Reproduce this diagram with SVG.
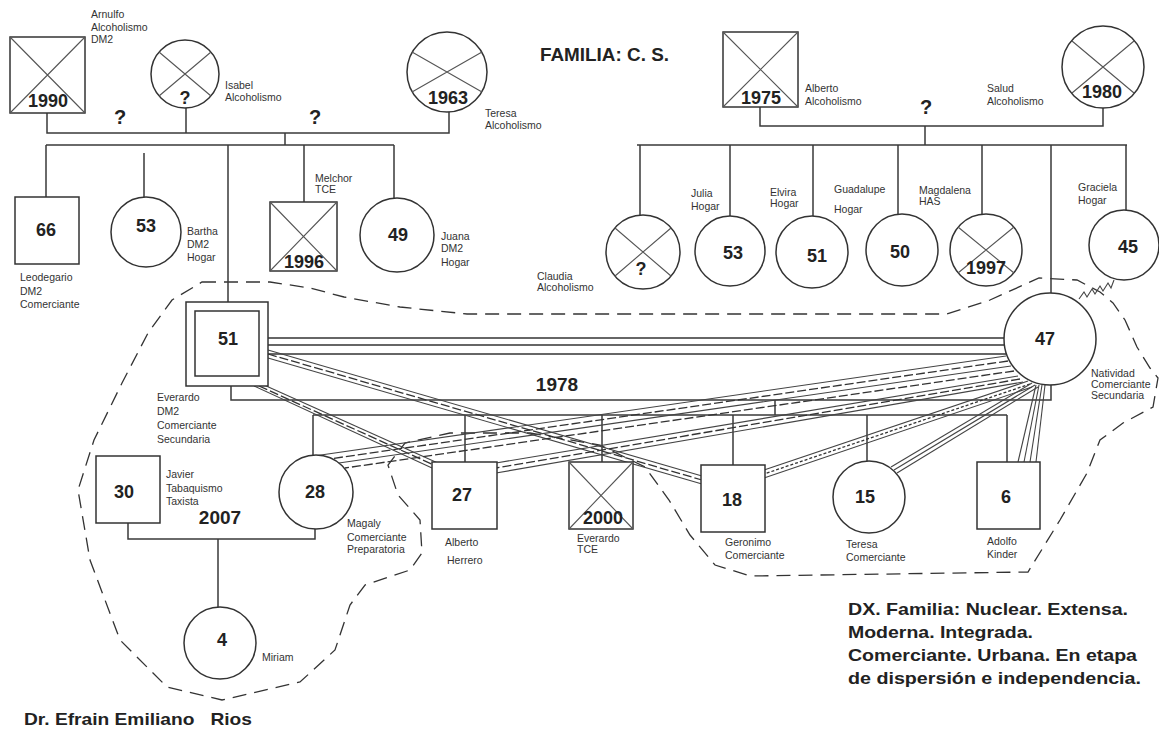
<svg xmlns="http://www.w3.org/2000/svg" width="1159" height="732" viewBox="0 0 1159 732">
<style>
.sh{fill:#fff;stroke:#333;stroke-width:1.5}
.x{stroke:#555;stroke-width:1.1;fill:none}
.ln{fill:none;stroke:#3a3a3a;stroke-width:1.5}
.num{font-family:"Liberation Sans",Arial,sans-serif;font-weight:bold;font-size:18px;fill:#222;text-anchor:middle}
.lb{font-family:"Liberation Sans",Arial,sans-serif;font-size:10.5px;fill:#333}
.big{font-family:"Liberation Sans",Arial,sans-serif;font-weight:bold;fill:#222}
.bd{fill:none;stroke:#333;stroke-width:1.3;stroke-dasharray:14 8}
.r{stroke:#444;stroke-width:1.1;fill:none}
.rd{stroke:#333;stroke-width:1.3;fill:none;stroke-dasharray:9 3}
.rh{stroke:#333;stroke-width:1.3;fill:none;stroke-dasharray:3 2}
.tri{stroke:#666;stroke-width:1.8}
</style>
<rect width="1159" height="732" fill="#fff"/>

<g id="household">
<path class="bd" d="M202,282 L270,282 L310,288 L344,297 L400,307 L467,314 L947,314 L990,300 L1039,278 L1077,280 L1100,292 L1113,303 L1125,320 L1137,347 L1150,368 L1158,378 L1153,407 L1123,423 L1100,440 L1087,473 L1060,520 L1028,572 L750,576 L715,565 L690,535 L669,500 L645,467 L600,445 L530,433 L450,433 L405,443 L388,465 L398,495 L420,520 L422,553 L410,570 L365,585 L350,605 L335,650 L300,682 L222,700 L167,687 L120,640 L90,560 L78,490 L94,440 L122,383 L148,333 L172,300 Z"/>
</g>

<g id="connectors">
<path class="ln" d="M47,113 V133 H449 V112 M186,108 V133 M285,133 V145 M46,145 H394 M46,145 V197 M144,153 V197 M228,145 V302 M304,145 V202 M394,145 V198"/>
<path class="ln" d="M760,107 V126 H1103 V108 M925,126 V145 M637,145 H1127 M640,145 V215 M730,145 V216 M813,145 V216 M898,145 V214 M982,145 V214 M1051,145 V293 M1126,145 V210"/>
<path class="ln" d="M231,386 V400 H1051 V385 M775,400 V415 M313,415 H1007 M313,415 V455 M465,415 V462 M602,415 V462 M733,415 V465 M867,415 V461 M1007,415 V462"/>
<path class="ln" d="M128,523 V539 H315 V529 M218,539 V607"/>
<g class="tri">
<line x1="268" y1="338" x2="1006" y2="338"/>
<line x1="268" y1="345" x2="1006" y2="345"/>
<line x1="268" y1="354" x2="1006" y2="354"/>
</g>
<line class="r" x1="268" y1="350" x2="702" y2="476"/>
<line class="rd" x1="268" y1="354" x2="702" y2="480"/>
<line class="r" x1="268" y1="358" x2="702" y2="484"/>
<line class="r" x1="254" y1="386" x2="432" y2="468"/>
<line class="rd" x1="259" y1="386" x2="436" y2="466"/>
<line class="r" x1="264" y1="385" x2="440" y2="464"/>
<line class="r" x1="1006" y1="356" x2="314" y2="456"/>
<line class="rd" x1="1008" y1="361" x2="322" y2="460"/>
<line class="r" x1="1011" y1="366" x2="332" y2="464"/>
<line class="rd" x1="1014" y1="371" x2="345" y2="468"/>
<line class="r" x1="1018" y1="376" x2="496" y2="463"/>
<line class="rd" x1="1020" y1="379" x2="496" y2="468"/>
<line class="r" x1="1023" y1="382" x2="496" y2="473"/>
<line class="r" x1="1028" y1="381" x2="764" y2="470"/>
<line class="rh" x1="1030" y1="384" x2="764" y2="474"/>
<line class="r" x1="1032" y1="387" x2="764" y2="478"/>
<line class="r" x1="1032" y1="383" x2="891" y2="467"/>
<line class="r" x1="1035" y1="385" x2="894" y2="470"/>
<line class="r" x1="1038" y1="387" x2="897" y2="473"/>
<line class="r" x1="1036" y1="385" x2="1018" y2="462"/>
<line class="r" x1="1039" y1="385" x2="1024" y2="462"/>
<line class="r" x1="1042" y1="385" x2="1030" y2="462"/>
<line class="r" x1="1045" y1="385" x2="1036" y2="462"/>
<polyline class="r" points="1079,299 1084,292 1087,297 1092,289 1095,294 1100,286 1103,291 1108,283 1111,288 1114,280"/>
</g>

<g id="arnulfo">
<rect class="sh" x="10" y="37" width="75" height="76"/>
<path class="x" d="M10,37 L85,113 M85,37 L10,113"/>
<text class="num" x="48" y="107">1990</text>
<text class="lb" x="91" y="18">Arnulfo</text>
<text class="lb" x="91" y="31">Alcoholismo</text>
<text class="lb" x="91" y="43">DM2</text>
</g>
<g id="isabel">
<circle class="sh" cx="185" cy="74" r="34"/>
<path class="x" d="M159,52 L211,96 M211,52 L159,96"/>
<text class="num" x="185" y="104">?</text>
<text class="lb" x="225" y="89">Isabel</text>
<text class="lb" x="225" y="101">Alcoholismo</text>
</g>
<g id="teresa-abuela">
<circle class="sh" cx="447" cy="72" r="40"/>
<path class="x" d="M412,52 L482,92 M482,52 L412,92"/>
<text class="num" x="448" y="104">1963</text>
<text class="lb" x="485" y="117">Teresa</text>
<text class="lb" x="485" y="129">Alcoholismo</text>
</g>
<g id="alberto-abuelo">
<rect class="sh" x="723" y="32" width="75" height="75"/>
<path class="x" d="M723,32 L798,107 M798,32 L723,107"/>
<text class="num" x="761" y="104">1975</text>
<text class="lb" x="805" y="92">Alberto</text>
<text class="lb" x="805" y="105">Alcoholismo</text>
</g>
<g id="salud">
<circle class="sh" cx="1103" cy="67" r="41"/>
<path class="x" d="M1072,41 L1134,93 M1134,41 L1072,93"/>
<text class="num" x="1102" y="98">1980</text>
<text class="lb" x="987" y="92">Salud</text>
<text class="lb" x="987" y="105">Alcoholismo</text>
</g>

<g id="leodegario">
<rect class="sh" x="15" y="197" width="64" height="67"/>
<text class="num" x="46" y="236">66</text>
<text class="lb" x="20" y="281">Leodegario</text>
<text class="lb" x="20" y="295">DM2</text>
<text class="lb" x="20" y="308">Comerciante</text>
</g>
<g id="bartha">
<circle class="sh" cx="146" cy="232" r="35"/>
<text class="num" x="146" y="232">53</text>
<text class="lb" x="187" y="235">Bartha</text>
<text class="lb" x="187" y="248">DM2</text>
<text class="lb" x="187" y="261">Hogar</text>
</g>
<g id="melchor">
<rect class="sh" x="270" y="202" width="67" height="69"/>
<path class="x" d="M270,202 L337,271 M337,202 L270,271"/>
<text class="num" x="304" y="268">1996</text>
<text class="lb" x="315" y="182">Melchor</text>
<text class="lb" x="315" y="193">TCE</text>
</g>
<g id="juana">
<circle class="sh" cx="397" cy="235" r="37"/>
<text class="num" x="398" y="241">49</text>
<text class="lb" x="441" y="240">Juana</text>
<text class="lb" x="441" y="252">DM2</text>
<text class="lb" x="441" y="266">Hogar</text>
</g>

<g id="claudia">
<circle class="sh" cx="643" cy="252" r="37"/>
<path class="x" d="M615,228 L671,276 M671,228 L615,276"/>
<text class="num" x="641" y="275">?</text>
<text class="lb" x="537" y="280">Claudia</text>
<text class="lb" x="537" y="291">Alcoholismo</text>
</g>
<g id="julia">
<circle class="sh" cx="730" cy="251" r="35"/>
<text class="num" x="733" y="259">53</text>
<text class="lb" x="691" y="197">Julia</text>
<text class="lb" x="691" y="210">Hogar</text>
</g>
<g id="elvira">
<circle class="sh" cx="812" cy="252" r="36"/>
<text class="num" x="817" y="262">51</text>
<text class="lb" x="770" y="196">Elvira</text>
<text class="lb" x="770" y="207">Hogar</text>
</g>
<g id="guadalupe">
<circle class="sh" cx="902" cy="250" r="36"/>
<text class="num" x="900" y="258">50</text>
<text class="lb" x="834" y="193">Guadalupe</text>
<text class="lb" x="834" y="213">Hogar</text>
</g>
<g id="magdalena">
<circle class="sh" cx="986" cy="250" r="36"/>
<path class="x" d="M958,227 L1014,273 M1014,227 L958,273"/>
<text class="num" x="986" y="274">1997</text>
<text class="lb" x="919" y="194">Magdalena</text>
<text class="lb" x="919" y="205">HAS</text>
</g>
<g id="graciela">
<circle class="sh" cx="1124" cy="245" r="35"/>
<text class="num" x="1128" y="253">45</text>
<text class="lb" x="1078" y="191">Graciela</text>
<text class="lb" x="1078" y="204">Hogar</text>
</g>

<g id="everardo">
<rect class="sh" x="186" y="302" width="82" height="84"/>
<rect class="sh" x="195" y="311" width="64" height="65"/>
<text class="num" x="228" y="345">51</text>
<text class="lb" x="157" y="401">Everardo</text>
<text class="lb" x="157" y="415">DM2</text>
<text class="lb" x="157" y="429">Comerciante</text>
<text class="lb" x="157" y="443">Secundaria</text>
</g>
<g id="natividad">
<circle class="sh" cx="1050" cy="339" r="46"/>
<text class="num" x="1045" y="345">47</text>
<text class="lb" x="1091" y="377">Natividad</text>
<text class="lb" x="1091" y="388">Comerciante</text>
<text class="lb" x="1091" y="399">Secundaria</text>
</g>

<g id="javier">
<rect class="sh" x="96" y="456" width="64" height="67"/>
<text class="num" x="124" y="498">30</text>
<text class="lb" x="166" y="478">Javier</text>
<text class="lb" x="166" y="492">Tabaquismo</text>
<text class="lb" x="166" y="505">Taxista</text>
</g>
<g id="magaly">
<circle class="sh" cx="316" cy="492" r="37"/>
<text class="num" x="315" y="498">28</text>
<text class="lb" x="347" y="527">Magaly</text>
<text class="lb" x="347" y="541">Comerciante</text>
<text class="lb" x="347" y="553">Preparatoria</text>
</g>
<g id="miriam">
<circle class="sh" cx="220" cy="643" r="36"/>
<text class="num" x="222" y="646">4</text>
<text class="lb" x="262" y="661">Miriam</text>
</g>
<g id="alberto">
<rect class="sh" x="432" y="462" width="65" height="67"/>
<text class="num" x="462" y="501">27</text>
<text class="lb" x="445" y="546">Alberto</text>
<text class="lb" x="447" y="564">Herrero</text>
</g>
<g id="everardo-hijo">
<rect class="sh" x="569" y="462" width="64" height="67"/>
<path class="x" d="M569,462 L633,529 M633,462 L569,529"/>
<text class="num" x="603" y="524">2000</text>
<text class="lb" x="577" y="542">Everardo</text>
<text class="lb" x="577" y="553">TCE</text>
</g>
<g id="geronimo">
<rect class="sh" x="701" y="465" width="64" height="67"/>
<text class="num" x="732" y="506">18</text>
<text class="lb" x="725" y="546">Geronimo</text>
<text class="lb" x="725" y="559">Comerciante</text>
</g>
<g id="teresa-hija">
<circle class="sh" cx="869" cy="497" r="36"/>
<text class="num" x="865" y="503">15</text>
<text class="lb" x="846" y="548">Teresa</text>
<text class="lb" x="846" y="561">Comerciante</text>
</g>
<g id="adolfo">
<rect class="sh" x="977" y="462" width="63" height="67"/>
<text class="num" x="1006" y="503">6</text>
<text class="lb" x="987" y="545">Adolfo</text>
<text class="lb" x="987" y="558">Kinder</text>
</g>

<g id="texts">
<text class="big" x="540" y="61" font-size="18" textLength="129" lengthAdjust="spacingAndGlyphs">FAMILIA: C. S.</text>
<text class="big" x="120" y="124" font-size="20" text-anchor="middle">?</text>
<text class="big" x="315" y="124" font-size="20" text-anchor="middle">?</text>
<text class="big" x="926" y="114" font-size="20" text-anchor="middle">?</text>
<text class="big" x="557" y="391" font-size="19" text-anchor="middle">1978</text>
<text class="big" x="220" y="524" font-size="19" text-anchor="middle">2007</text>
<text class="big" x="848" y="615" font-size="17" textLength="280" lengthAdjust="spacingAndGlyphs">DX. Familia: Nuclear. Extensa.</text>
<text class="big" x="848" y="638" font-size="17" textLength="185" lengthAdjust="spacingAndGlyphs">Moderna. Integrada.</text>
<text class="big" x="848" y="661" font-size="17" textLength="289" lengthAdjust="spacingAndGlyphs">Comerciante. Urbana. En etapa</text>
<text class="big" x="848" y="684" font-size="17" textLength="293" lengthAdjust="spacingAndGlyphs">de dispersión e independencia.</text>
<text class="big" x="24" y="725" font-size="17" xml:space="preserve" style="white-space:pre" textLength="228" lengthAdjust="spacingAndGlyphs">Dr. Efrain Emiliano   Rios</text>
</g>
</svg>
